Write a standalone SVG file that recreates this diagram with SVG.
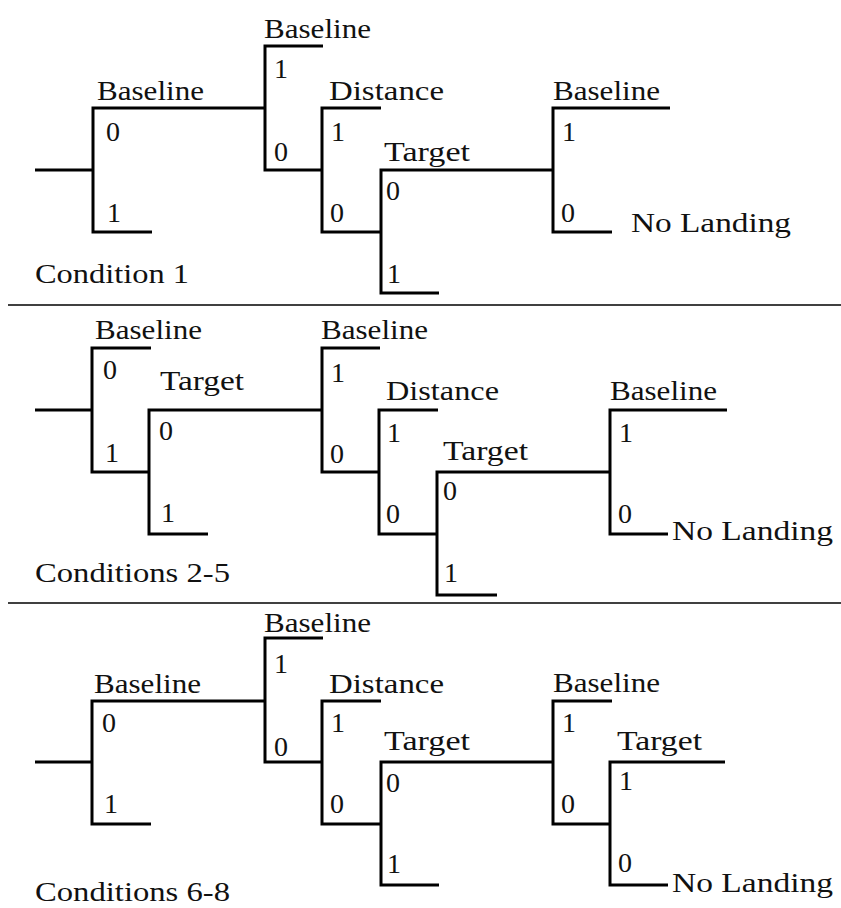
<svg xmlns="http://www.w3.org/2000/svg" width="841" height="908" viewBox="0 0 841 908" font-family="Liberation Serif, Times New Roman, serif" font-size="28">
<style>
.br{fill:none;stroke:#000;stroke-width:3;stroke-linejoin:miter;stroke-linecap:butt}
.sep{stroke:#000;stroke-width:1.5}
.t{font-family:'Liberation Serif', serif;font-size:28px;fill:#111}
</style>
<rect width="841" height="908" fill="#fff"/>
<g id="connectors">
<path class="br" d="M35,170H93"/>
<path class="br" d="M35,410H92"/>
<path class="br" d="M35,762H92"/>
<line class="sep" x1="8" y1="305" x2="841" y2="305"/>
<line class="sep" x1="8" y1="603" x2="841" y2="603"/>
</g>
<g class="t">
<!-- Panel 1 -->
<g id="p1n1"><path class="br" d="M265,108H93V232H152"/><text x="97" y="100" textLength="107" lengthAdjust="spacingAndGlyphs">Baseline</text><text x="106" y="141">0</text><text x="107" y="222">1</text></g>
<g id="p1n2"><path class="br" d="M323,46H265V170H322"/><text x="264" y="38" textLength="107" lengthAdjust="spacingAndGlyphs">Baseline</text><text x="274" y="78">1</text><text x="274" y="161">0</text></g>
<g id="p1n3"><path class="br" d="M381,108H322V232H381"/><text x="329" y="100" textLength="115" lengthAdjust="spacingAndGlyphs">Distance</text><text x="331" y="141">1</text><text x="330" y="222">0</text></g>
<g id="p1n4"><path class="br" d="M553,170H381V293H439"/><text x="384" y="161" textLength="86" lengthAdjust="spacingAndGlyphs">Target</text><text x="386" y="200">0</text><text x="387" y="283">1</text></g>
<g id="p1n5"><path class="br" d="M670,108H553V232H612"/><text x="553" y="100" textLength="107" lengthAdjust="spacingAndGlyphs">Baseline</text><text x="562" y="141">1</text><text x="561" y="222">0</text></g>
<g id="p1end"><text x="631" y="232" textLength="160" lengthAdjust="spacingAndGlyphs">No Landing</text></g>
<g id="p1title"><text x="35" y="283" textLength="154" lengthAdjust="spacingAndGlyphs">Condition 1</text></g>
<!-- Panel 2 -->
<g id="p2n1"><path class="br" d="M151,348H92V472H149"/><text x="95" y="339" textLength="107" lengthAdjust="spacingAndGlyphs">Baseline</text><text x="103" y="379">0</text><text x="105" y="462">1</text></g>
<g id="p2n2"><path class="br" d="M322,410H149V534H208"/><text x="160" y="390" textLength="84" lengthAdjust="spacingAndGlyphs">Target</text><text x="159" y="440">0</text><text x="161" y="522">1</text></g>
<g id="p2n3"><path class="br" d="M380,348H322V472H379"/><text x="321" y="339" textLength="107" lengthAdjust="spacingAndGlyphs">Baseline</text><text x="331" y="382">1</text><text x="330" y="463">0</text></g>
<g id="p2n4"><path class="br" d="M438,410H379V534H437"/><text x="386" y="400" textLength="113" lengthAdjust="spacingAndGlyphs">Distance</text><text x="387" y="442">1</text><text x="386" y="523">0</text></g>
<g id="p2n5"><path class="br" d="M610,472H437V595H497"/><text x="443" y="460" textLength="85" lengthAdjust="spacingAndGlyphs">Target</text><text x="443" y="500">0</text><text x="444" y="582">1</text></g>
<g id="p2n6"><path class="br" d="M727,410H610V534H668"/><text x="610" y="400" textLength="107" lengthAdjust="spacingAndGlyphs">Baseline</text><text x="619" y="442">1</text><text x="618" y="523">0</text></g>
<g id="p2end"><text x="672" y="540" textLength="161" lengthAdjust="spacingAndGlyphs">No Landing</text></g>
<g id="p2title"><text x="35" y="582" textLength="195" lengthAdjust="spacingAndGlyphs">Conditions 2-5</text></g>
<!-- Panel 3 -->
<g id="p3n1"><path class="br" d="M265,701H92V824H151"/><text x="94" y="693" textLength="107" lengthAdjust="spacingAndGlyphs">Baseline</text><text x="102" y="732">0</text><text x="104" y="813">1</text></g>
<g id="p3n2"><path class="br" d="M323,638H265V762H322"/><text x="264" y="632" textLength="107" lengthAdjust="spacingAndGlyphs">Baseline</text><text x="274" y="673">1</text><text x="274" y="756">0</text></g>
<g id="p3n3"><path class="br" d="M381,701H322V824H381"/><text x="329" y="693" textLength="115" lengthAdjust="spacingAndGlyphs">Distance</text><text x="331" y="732">1</text><text x="330" y="813">0</text></g>
<g id="p3n4"><path class="br" d="M553,762H381V885H439"/><text x="384" y="750" textLength="86" lengthAdjust="spacingAndGlyphs">Target</text><text x="386" y="792">0</text><text x="387" y="873">1</text></g>
<g id="p3n5"><path class="br" d="M612,701H553V824H610"/><text x="553" y="692" textLength="107" lengthAdjust="spacingAndGlyphs">Baseline</text><text x="562" y="732">1</text><text x="561" y="813">0</text></g>
<g id="p3n6"><path class="br" d="M725,762H610V885H668"/><text x="617" y="750" textLength="85" lengthAdjust="spacingAndGlyphs">Target</text><text x="619" y="790">1</text><text x="618" y="872">0</text></g>
<g id="p3end"><text x="672" y="892" textLength="161" lengthAdjust="spacingAndGlyphs">No Landing</text></g>
<g id="p3title"><text x="35" y="901" textLength="195" lengthAdjust="spacingAndGlyphs">Conditions 6-8</text></g>
</g>
</svg>
